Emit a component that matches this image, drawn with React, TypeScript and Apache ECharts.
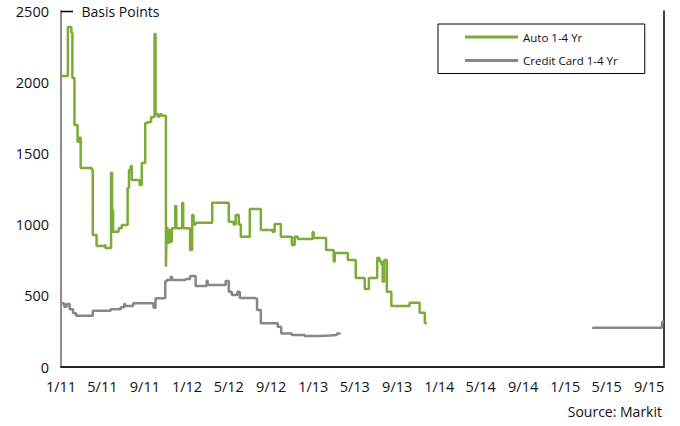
import React, { useEffect, useRef } from "react";
import * as echarts from "echarts";

const autoDates = [
  "2011-01-03", "2011-01-21", "2011-01-31", "2011-02-03", "2011-02-09", "2011-02-18", "2011-02-23", "2011-02-27",
  "2011-03-31", "2011-04-03", "2011-04-14", "2011-05-07", "2011-05-10", "2011-05-26", "2011-05-29", "2011-06-01",
  "2011-06-17", "2011-06-26", "2011-07-13", "2011-07-17", "2011-07-22", "2011-07-25", "2011-08-17", "2011-08-23",
  "2011-09-02", "2011-09-09", "2011-09-19", "2011-09-29", "2011-10-02", "2011-10-08", "2011-10-14", "2011-10-20",
  "2011-11-01", "2011-11-03", "2011-11-06", "2011-11-10", "2011-11-15", "2011-11-18", "2011-11-28", "2011-12-01",
  "2011-12-18", "2011-12-21", "2012-01-10", "2012-01-16", "2012-01-20", "2012-01-26", "2012-03-14", "2012-05-01",
  "2012-05-15", "2012-05-21", "2012-05-30", "2012-06-05", "2012-07-01", "2012-08-02", "2012-09-05", "2012-09-11",
  "2012-09-29", "2012-10-31", "2012-11-08", "2012-11-17", "2012-12-30", "2013-01-02", "2013-02-07", "2013-03-01",
  "2013-03-04", "2013-04-11", "2013-05-04", "2013-05-30", "2013-06-11", "2013-07-05", "2013-07-12", "2013-07-18",
  "2013-07-21", "2013-07-25", "2013-08-02", "2013-08-15", "2013-10-07", "2013-11-05", "2013-11-20", "2013-11-23",
];
const autoValues = [
  2043, 2387, 2345, 2030, 1700, 1582, 1610, 1397,
  1383, 927, 850, 855, 835, 1364, 1100, 950,
  975, 997, 1257, 1383, 1411, 1313, 1278, 1432,
  1713, 1720, 1755, 2338, 1776, 1760, 1775, 1765,
  704, 976, 870, 960, 880, 975, 1130, 975,
  1151, 975, 822, 1067, 1000, 1013, 1153, 1020,
  1000, 1067, 1000, 915, 1110, 962, 950, 1004,
  915, 857, 915, 899, 948, 906, 822, 740,
  800, 751, 625, 548, 625, 765, 740, 716,
  599, 751, 529, 428, 451, 381, 309, 300,
];

const cardDates = [
  "2011-01-03", "2011-01-10", "2011-01-17", "2011-01-26", "2011-02-05", "2011-02-14", "2011-04-03", "2011-05-25",
  "2011-06-23", "2011-07-03", "2011-07-06", "2011-07-29", "2011-09-26", "2011-10-02", "2011-10-30", "2011-11-03",
  "2011-11-15", "2011-11-19", "2011-12-28", "2012-01-10", "2012-01-26", "2012-02-27", "2012-03-01", "2012-04-22",
  "2012-05-01", "2012-05-10", "2012-05-26", "2012-06-02", "2012-07-15", "2012-07-22", "2012-08-02", "2012-09-20",
  "2012-09-30", "2012-10-31", "2012-12-07", "2013-01-20", "2013-02-18", "2013-03-10", "2013-03-19", "2013-03-20",
  "2015-03-20", "2015-10-08", "2015-10-09", "2015-10-14",
];
const cardValues: (number | null)[] = [
  447, 423, 442, 405, 377, 360, 395, 405,
  419, 442, 428, 447, 416, 482, 600, 611,
  634, 611, 618, 639, 569, 606, 576, 604,
  529, 505, 529, 484, 480, 400, 307, 283,
  236, 225, 218, 222, 225, 235, 241, null,
  276, 276, 318, 318,
];

const xTickDates = [
  "2011-01-01", "2011-05-01", "2011-09-01", "2012-01-01", "2012-05-01", "2012-09-01", "2013-01-01", "2013-05-01",
  "2013-09-01", "2014-01-01", "2014-05-01", "2014-09-01", "2015-01-01", "2015-05-01", "2015-09-01",
];
const xMinDate = "2011-01-01";
const xMaxDate = "2015-10-14";
const yTicks = [0, 500, 1000, 1500, 2000, 2500];

const seriesNames = ["Auto 1-4 Yr", "Credit Card 1-4 Yr"];

function ts(s: string): number {
  const [y, m, d] = s.split("-").map(Number);
  return Date.UTC(y, m - 1, d);
}

const FONT = "'Open Sans', sans-serif";

export default function App() {
  const ref = useRef<HTMLDivElement>(null);
  useEffect(() => {
    if (!ref.current) return;
    const chart = echarts.init(ref.current, undefined, { renderer: "svg" });
    const autoData = autoDates.map((d, i) => [ts(d), autoValues[i]]);
    const cardData = cardDates.map((d, i) => [ts(d), cardValues[i]]);
    const tickTs = xTickDates.map(ts);
    chart.setOption({
      animation: false,
      backgroundColor: "#fff",
      textStyle: { fontFamily: FONT },
      grid: { left: 61, right: 16, top: 11, bottom: 59, containLabel: false },
      legend: {
        orient: "vertical",
        left: 438,
        top: 24,
        data: seriesNames,
        icon: "rect",
        borderColor: "#000",
        borderWidth: 1,
        borderRadius: 0,
        padding: [7, 27, 7, 27],
        itemWidth: 53,
        itemHeight: 3,
        itemGap: 11.5,
        textStyle: { fontFamily: FONT, fontSize: 11.5, lineHeight: 12, color: "#111" },
      },
      xAxis: [
        {
          type: "value",
          min: ts(xMinDate),
          max: ts(xMaxDate),
          axisLine: { show: true, lineStyle: { color: "#8c8c8c", width: 2 } },
          axisTick: { show: false },
          splitLine: { show: false },
          axisLabel: {
            customValues: tickTs,
            margin: 12,
            color: "#111",
            fontFamily: FONT,
            fontSize: 14.5,
            hideOverlap: false,
            formatter: (v: number) => {
              const d = new Date(v);
              return `${d.getUTCMonth() + 1}/${String(d.getUTCFullYear() % 100).padStart(2, "0")}`;
            },
          },
        },
        {
          type: "value",
          position: "top",
          min: ts(xMinDate),
          max: ts(xMaxDate),
          axisLine: { show: true, lineStyle: { color: "#000", width: 1.5 } },
          axisTick: { show: false },
          axisLabel: { show: false },
          splitLine: { show: false },
        },
      ],
      yAxis: [
        {
          type: "value",
          min: yTicks[0],
          max: yTicks[yTicks.length - 1],
          interval: 500,
          axisLine: { show: true, lineStyle: { color: "#8c8c8c", width: 2 } },
          axisTick: { show: false },
          splitLine: { show: false },
          axisLabel: {
            margin: 12,
            color: "#111",
            fontFamily: FONT,
            fontSize: 14.5,
            formatter: (v: number) => String(v),
          },
        },
        {
          type: "value",
          position: "right",
          min: 0,
          max: 2500,
          interval: 500,
          axisLine: { show: true, lineStyle: { color: "#000", width: 1.5 } },
          axisTick: { show: false },
          axisLabel: { show: false },
          splitLine: { show: false },
        },
      ],
      series: [
        {
          name: seriesNames[0],
          type: "line",
          step: "end",
          data: autoData,
          showSymbol: false,
          symbol: "none",
          lineStyle: { color: "#7cac38", width: 2.5 },
          itemStyle: { color: "#7cac38" },
          z: 3,
        },
        {
          name: seriesNames[1],
          type: "line",
          step: "end",
          data: cardData,
          showSymbol: false,
          symbol: "none",
          connectNulls: false,
          lineStyle: { color: "#878787", width: 2.5 },
          itemStyle: { color: "#878787" },
          z: 2,
        },
      ],
      graphic: [
        {
          type: "rect",
          z: 99,
          shape: { x: 74, y: 4, width: 94, height: 14 },
          style: { fill: "#fff" },
        },
        {
          type: "line",
          z: 99,
          shape: { x1: 61, y1: 11.5, x2: 73, y2: 11.5 },
          style: { stroke: "#000", lineWidth: 1.5 },
        },
        {
          type: "text",
          x: 120.5,
          y: 11,
          z: 100,
          style: {
            text: "Basis Points",
            fontFamily: FONT,
            fontSize: 14,
            fill: "#111",
            align: "center",
            verticalAlign: "middle",
          },
        },
        {
          type: "text",
          x: 662,
          y: 411,
          z: 100,
          style: {
            text: "Source: Markit",
            fontFamily: FONT,
            fontSize: 14,
            fill: "#111",
            align: "right",
            verticalAlign: "middle",
          },
        },
      ],
    });
    return () => chart.dispose();
  }, []);
  return <div ref={ref} style={{ width: 680, height: 426, position: "absolute", left: 0, top: 0 }} />;
}
